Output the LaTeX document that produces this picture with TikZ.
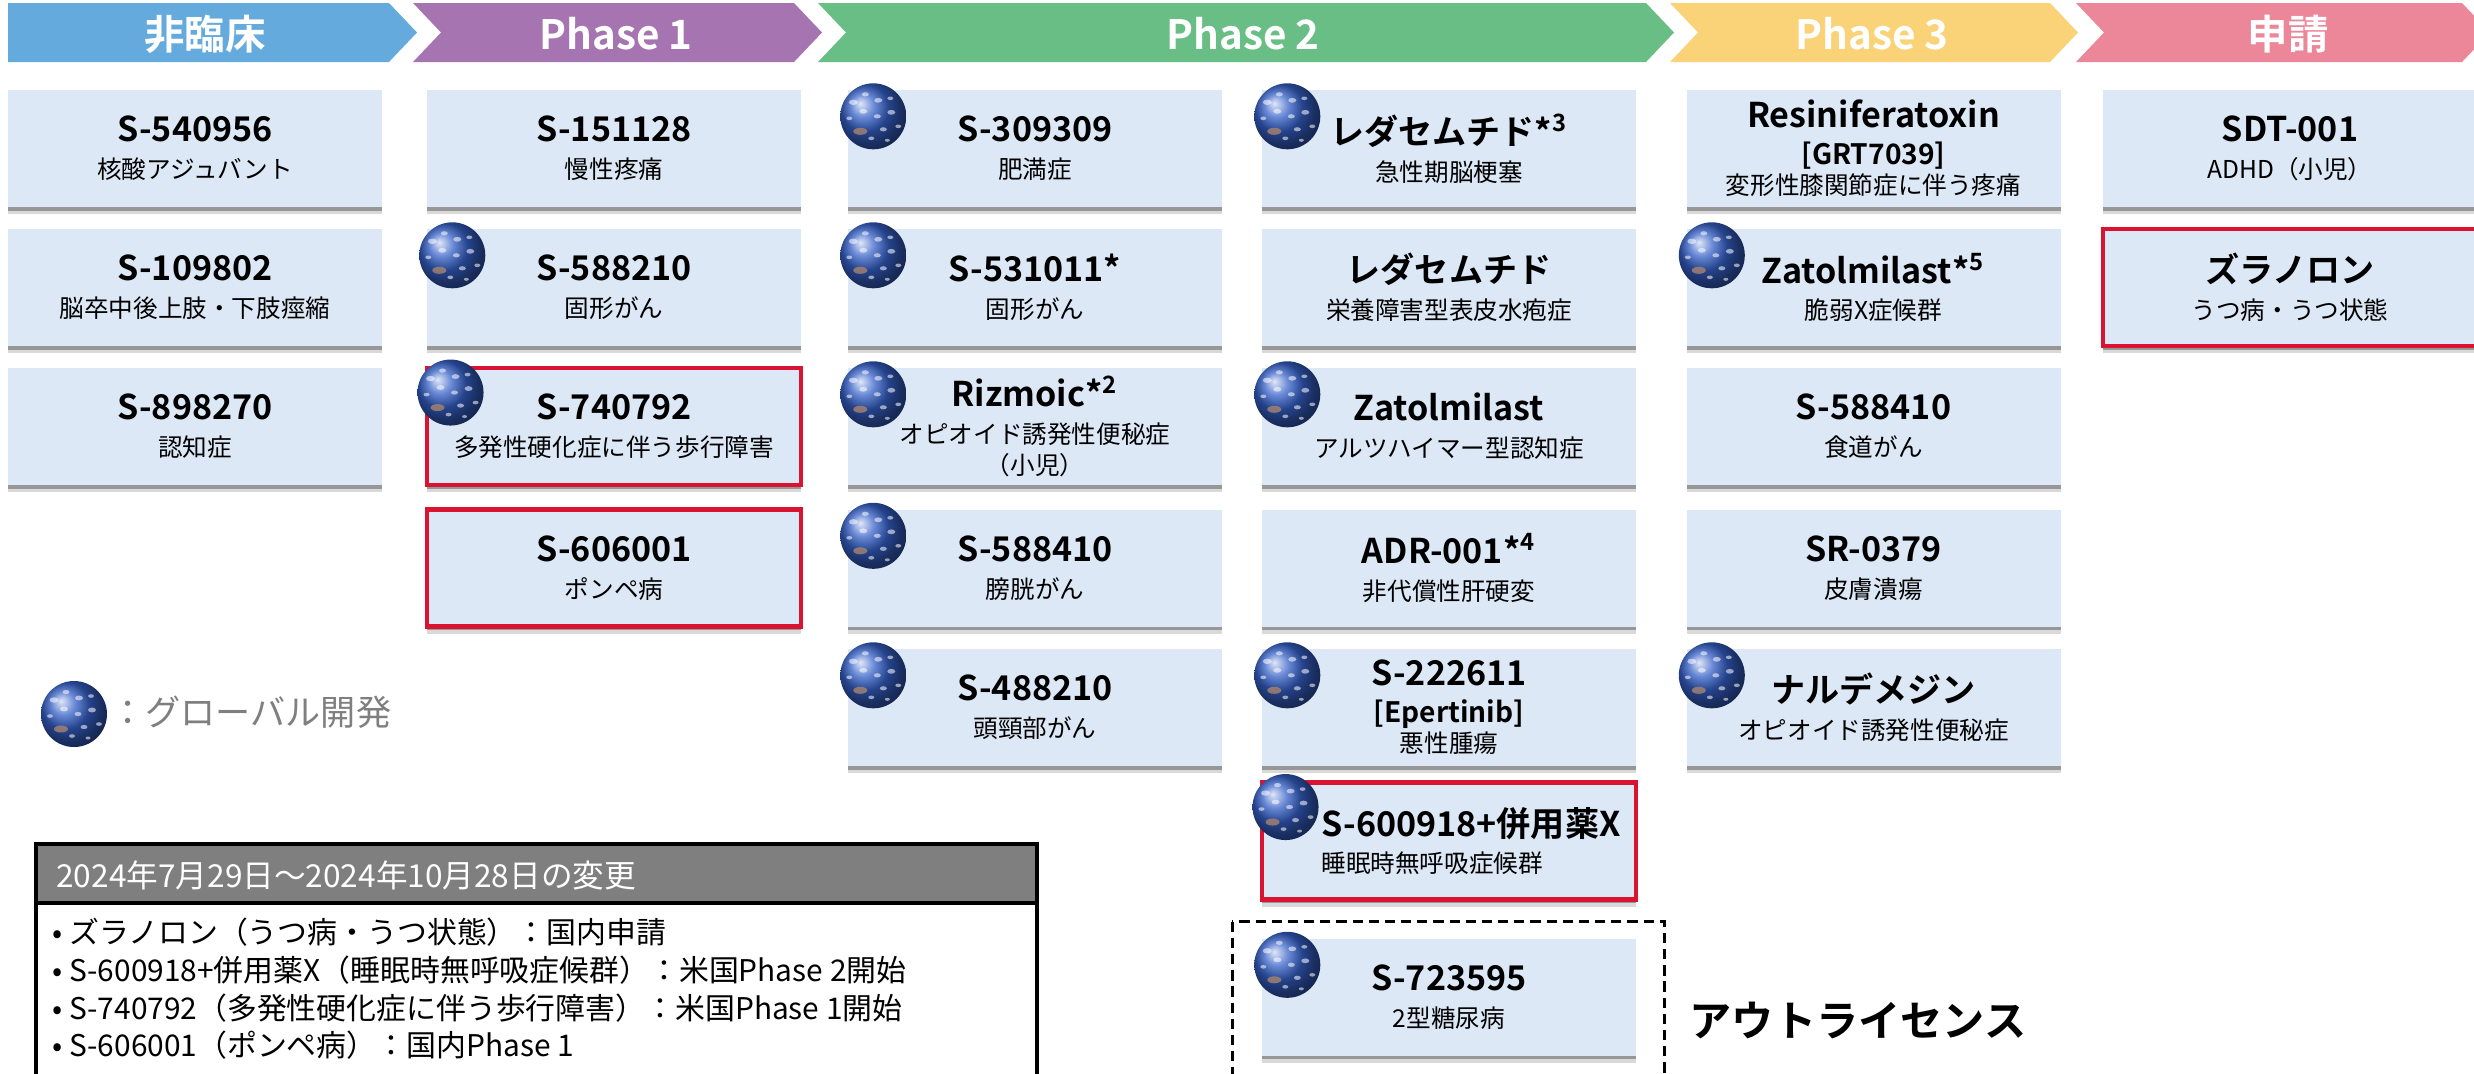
\documentclass[tikz,border=0pt]{standalone}
\usepackage{fontspec}
\setmainfont{Noto Sans CJK JP}[BoldFont={Noto Sans CJK JP Bold}]
\usepackage{xcolor}
\usepackage{tikz}
\usetikzlibrary{shadows}

\definecolor{preclin}{HTML}{65AADD}
\definecolor{phaseone}{HTML}{A675B1}
\definecolor{phasetwo}{HTML}{69BE85}
\definecolor{phasethree}{HTML}{FAD379}
\definecolor{filing}{HTML}{EC8799}
\definecolor{boxblue}{HTML}{DDE8F6}
\definecolor{newred}{HTML}{DA1430}
\definecolor{earth}{HTML}{3560C8}
\definecolor{land}{HTML}{A08070}
\definecolor{headgray}{HTML}{7F7F7F}

\newcommand{\drug}[1]{{\fontsize{9.7}{10.5}\selectfont\bfseries #1}}
\newcommand{\alias}[1]{{\fontsize{8}{10.5}\selectfont\bfseries #1}}

% chevron of a stage: left x, right x, colour
\newcommand{\stagearrow}[3]{%
  \fill[#3] (#1,-0.03) -- (#2,-0.03) -- (#2+0.28,-0.325) -- (#2,-0.62)
    -- (#1,-0.62) -- (#1+0.28,-0.325) -- cycle;}

% globe mark (global development), at the top left corner of a box
\newcommand{\globe}[2][0.26,-0.27]{%
  \begin{scope}[shift={(#2)},shift={(#1)}]
    \shade[ball color=earth] (0,0) circle (0.33);
    % clouds
    \foreach \cx/\cy/\r in {-0.2/0.14/0.045,-0.08/0.22/0.035,0.05/0.16/0.04,0.17/0.18/0.03,
        -0.24/-0.02/0.03,-0.1/0.05/0.04,0.04/0.0/0.035,0.18/0.04/0.04,
        0.25/-0.1/0.03,0.1/-0.13/0.035,-0.02/-0.22/0.03,0.14/-0.24/0.025}
      \fill[white,opacity=.55] (\cx,\cy) ellipse (\r cm and 0.6*\r cm);
    \fill[land,opacity=.85] (-0.13,-0.15) ellipse (0.07 and 0.035);
  \end{scope}}

\tikzset{
  stage/.style={text=white,font=\fontsize{11.5}{12}\selectfont\bfseries},
  item/.style={fill=boxblue,minimum width=3.74cm,minimum height=1.17cm,
    inner sep=0pt,align=center,font=\fontsize{7}{10.5}\selectfont,
    drop shadow={shadow xshift=0pt,shadow yshift=-2pt,opacity=.15,fill=black},
    drop shadow={shadow xshift=0pt,shadow yshift=-1pt,opacity=.3,fill=black}},
  newitem/.style={item,draw=newred,line width=1.4pt},
  change/.style={anchor=west,font=\fontsize{8.5}{10}\selectfont}
}

\begin{document}
\begin{tikzpicture}
\useasboundingbox (0,0) rectangle (24.74,-10.73);
\fill[white] (0,0) rectangle (24.74,-10.73);
\clip (0,0) rectangle (24.74,-10.73);

% stages
\fill[preclin] (0.08,-0.03) -- (3.89,-0.03) -- (4.17,-0.325) -- (3.89,-0.62) -- (0.08,-0.62) -- cycle;
\stagearrow{4.13}{7.94}{phaseone}
\stagearrow{8.18}{16.46}{phasetwo}
\stagearrow{16.70}{20.50}{phasethree}
\stagearrow{20.76}{24.62}{filing}
\node[stage] (preclinical) at (2.05,-0.34) {非臨床};
\node[stage] (p1) at (6.16,-0.34) {Phase 1};
\node[stage] (p2) at (12.43,-0.34) {Phase 2};
\node[stage] (p3) at (18.72,-0.34) {Phase 3};
\node[stage] (nda) at (22.88,-0.34) {申請};

% preclinical
\node[item] (s540956) at (1.95,-1.485) {\drug{S-540956}\\核酸アジュバント};
\node[item] (s109802) at (1.95,-2.875) {\drug{S-109802}\\脳卒中後上肢・下肢痙縮};
\node[item] (s898270) at (1.95,-4.265) {\drug{S-898270}\\認知症};

% phase 1
\node[item] (s151128) at (6.14,-1.485) {\drug{S-151128}\\慢性疼痛};
\node[item] (s588210) at (6.14,-2.875) {\drug{S-588210}\\固形がん};
\node[newitem] (s740792) at (6.14,-4.265) {\drug{S-740792}\\多発性硬化症に伴う歩行障害};
\node[newitem] (s606001) at (6.14,-5.68) {\drug{S-606001}\\ポンペ病};

% phase 2
\node[item] (s309309) at (10.35,-1.485) {\drug{S-309309}\\肥満症};
\node[item] (s531011) at (10.35,-2.875) {\drug{S-531011*}\\固形がん};
\node[item] (rizmoic) at (10.35,-4.265) {\drug{Rizmoic*\textsuperscript{2}}\\オピオイド誘発性便秘症\\[-1.5pt]（小児）};
\node[item] (s588410a) at (10.35,-5.68) {\drug{S-588410}\\膀胱がん};
\node[item] (s488210) at (10.35,-7.075) {\drug{S-488210}\\頭頸部がん};

\node[item] (redasa) at (14.49,-1.485) {\drug{レダセムチド*\textsuperscript{3}}\\急性期脳梗塞};
\node[item] (redasb) at (14.49,-2.875) {\drug{レダセムチド}\\栄養障害型表皮水疱症};
\node[item] (zatola) at (14.49,-4.265) {\drug{Zatolmilast}\\アルツハイマー型認知症};
\node[item] (adr001) at (14.49,-5.68) {\drug{ADR-001*\textsuperscript{4}}\\非代償性肝硬変};
\node[item] (s222611) at (14.49,-7.075) {\drug{S-222611}\\\alias{[Epertinib]}\\[-2pt]悪性腫瘍};
\node[newitem,align=left] (s600918) at (14.49,-8.41) {\drug{S-600918+併用薬X\hspace*{-0.44cm}}\\睡眠時無呼吸症候群};
\node[item] (s723595) at (14.49,-9.97) {\drug{S-723595}\\2型糖尿病};
\draw[dashed,dash pattern=on 2.9pt off 1.7pt,line width=0.85pt]
  ([shift={(-0.29,0.16)}]s723595.north west) rectangle ([shift={(0.28,-0.4)}]s723595.south east);

% phase 3
\node[item] (resin) at (18.735,-1.485) {\drug{Resiniferatoxin}\\\alias{[GRT7039]}\\[-2pt]変形性膝関節症に伴う疼痛};
\node[item] (zatolb) at (18.735,-2.875) {\drug{Zatolmilast*\textsuperscript{5}}\\脆弱X症候群};
\node[item] (s588410b) at (18.735,-4.265) {\drug{S-588410}\\食道がん};
\node[item] (sr0379) at (18.735,-5.68) {\drug{SR-0379}\\皮膚潰瘍};
\node[item] (naldem) at (18.735,-7.075) {\drug{ナルデメジン}\\オピオイド誘発性便秘症};

% filing
\node[item] (sdt001) at (22.90,-1.485) {\drug{SDT-001}\\ADHD（小児）};
\node[newitem] (zuranolone) at (22.90,-2.875) {\drug{ズラノロン}\\うつ病・うつ状態};

% global development
\foreach \g in {s588210,s740792,s309309,s531011,rizmoic,s588410a,s488210,
  redasa,zatola,s222611,s600918,s723595,zatolb,naldem}
  \globe{\g.north west};

% legend
\globe[0,0]{0.74,-7.14}
\node[anchor=west,text=headgray,font=\fontsize{10}{12}\selectfont] (legend) at (0.98,-7.12) {：グローバル開発};

\node[font=\fontsize{12}{14}\selectfont\bfseries] (outlicense) at (18.58,-10.2) {アウトライセンス};

% changes in the period
\draw[line width=0.9pt,fill=white] (0.36,-8.44) rectangle (10.37,-11.0);
\draw[line width=0.9pt,fill=headgray] (0.36,-8.44) rectangle (10.37,-9.03);
\node[change,text=white,font=\fontsize{9}{10}\selectfont] (chgtitle) at (0.44,-8.75) {2024年7月29日～2024年10月28日の変更};
\node[change] (chg1) at (0.40,-9.32) {• ズラノロン（うつ病・うつ状態）：国内申請};
\node[change] (chg2) at (0.40,-9.70) {• S-600918+併用薬X（睡眠時無呼吸症候群）：米国Phase 2開始};
\node[change] (chg3) at (0.40,-10.08) {• S-740792（多発性硬化症に伴う歩行障害）：米国Phase 1開始};
\node[change] (chg4) at (0.40,-10.45) {• S-606001（ポンペ病）：国内Phase 1};
\end{tikzpicture}
\end{document}
